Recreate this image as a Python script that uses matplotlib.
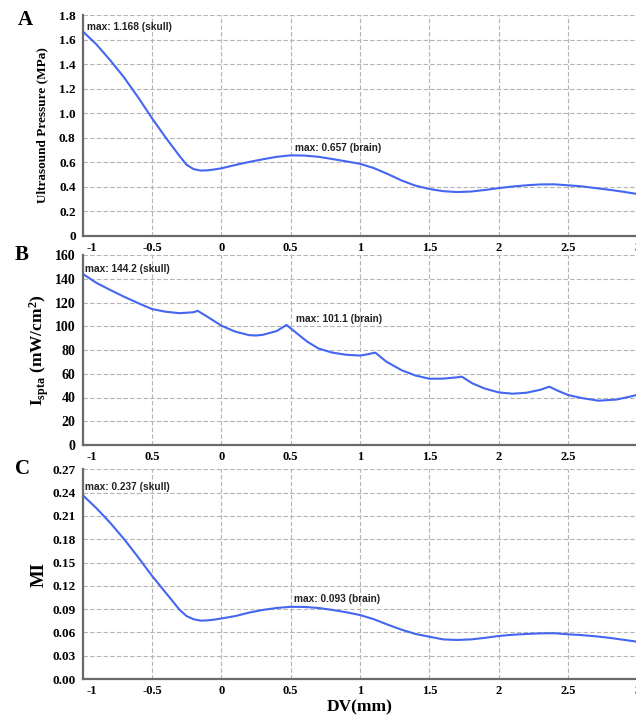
import matplotlib
matplotlib.use("Agg")
import matplotlib.pyplot as plt
import matplotlib.transforms as mtransforms

plt.rcParams['font.family'] = 'Liberation Serif'
plt.rcParams['font.weight'] = 'bold'
plt.rcParams['axes.labelweight'] = 'bold'
plt.rcParams['mathtext.fontset'] = 'custom'
plt.rcParams['mathtext.rm'] = 'Liberation Serif:bold'
plt.rcParams['mathtext.it'] = 'Liberation Serif:bold'
plt.rcParams['mathtext.default'] = 'rm'

# depth along the DV axis (mm)
dv = [-1.0, -0.9, -0.8, -0.7, -0.6, -0.5, -0.4, -0.3, -0.25, -0.2, -0.15, -0.1,
      -0.05, 0.0, 0.1, 0.2, 0.3, 0.4, 0.5, 0.6, 0.7, 0.8, 0.9, 1.0, 1.1, 1.2,
      1.3, 1.4, 1.5, 1.6, 1.7, 1.8, 1.9, 2.0, 2.1, 2.2, 2.3, 2.4, 2.5, 2.6,
      2.7, 2.8, 2.9, 3.0]

# A: peak pressure (MPa)
pressure = [1.668, 1.56, 1.43, 1.29, 1.13, 0.96, 0.80, 0.65, 0.58, 0.545, 0.533,
            0.535, 0.542, 0.551, 0.578, 0.603, 0.625, 0.645, 0.657, 0.655, 0.645,
            0.627, 0.608, 0.588, 0.553, 0.505, 0.452, 0.410, 0.383, 0.365, 0.358,
            0.362, 0.375, 0.390, 0.403, 0.413, 0.420, 0.421, 0.413, 0.404, 0.390,
            0.376, 0.360, 0.342]

# C: mechanical index
mi = [0.237, 0.220, 0.201, 0.180, 0.157, 0.133, 0.111, 0.089, 0.081, 0.077,
      0.0752, 0.0755, 0.0765, 0.078, 0.081, 0.0855, 0.089, 0.0915, 0.093, 0.0928,
      0.0915, 0.089, 0.086, 0.0824, 0.077, 0.070, 0.0635, 0.058, 0.0545, 0.051,
      0.0503, 0.051, 0.053, 0.0554, 0.057, 0.058, 0.0588, 0.059, 0.0576, 0.0565,
      0.055, 0.053, 0.0505, 0.048]

# B: spatial-peak temporal-average intensity (mW/cm2), with the layer cusps
dv_b = [-1.0, -0.9, -0.8, -0.7, -0.6, -0.5, -0.4, -0.3, -0.2, -0.17, -0.1, 0.0,
        0.1, 0.2, 0.25, 0.3, 0.4, 0.47, 0.55, 0.62, 0.7, 0.8, 0.9, 1.0, 1.05,
        1.11, 1.19, 1.3, 1.4, 1.5, 1.6, 1.7, 1.735, 1.81, 1.9, 2.0, 2.1, 2.2,
        2.3, 2.365, 2.43, 2.5, 2.6, 2.72, 2.85, 2.95, 3.0]
ispta = [144.2, 136.5, 130.5, 124.8, 119.5, 114.5, 112.2, 111.0, 111.8, 113.0,
         108.0, 100.5, 95.5, 92.5, 92.2, 92.8, 96.0, 101.1, 93.5, 87.0, 81.3,
         77.8, 76.0, 75.3, 76.3, 77.8, 70.2, 63.0, 58.5, 55.8, 55.9, 57.0, 57.5,
         51.9, 47.5, 44.3, 43.2, 44.0, 46.5, 49.1, 45.5, 42.1, 39.5, 37.3, 38.3,
         40.8, 42.3]

xticks = [-1, -0.5, 0, 0.5, 1, 1.5, 2, 2.5, 3]
xlabels = ['-1', '-0.5', '0', '0.5', '1', '1.5', '2', '2.5', '3']
xticks_b = [-1, -0.5, 0, 0.5, 1, 1.5, 2, 2.5]
xlabels_b = ['-1', '0.5', '0', '0.5', '1', '1.5', '2', '2.5']

yticks_a = [0, 0.2, 0.4, 0.6, 0.8, 1.0, 1.2, 1.4, 1.6, 1.8]
ylabels_a = ['0', '0.2', '0.4', '0.6', '0.8', '1.0', '1.2', '1.4', '1.6', '1.8']
yticks_b = [0, 20, 40, 60, 80, 100, 120, 140, 160]
yticks_c = [0, 0.03, 0.06, 0.09, 0.12, 0.15, 0.18, 0.21, 0.24, 0.27]

# (x, y, label) of the two maxima per panel
max_a = [(-1.0, 1.668, 'max: 1.168 (skull)'), (0.5, 0.657, 'max: 0.657 (brain)')]
max_b = [(-1.0, 144.2, 'max: 144.2 (skull)'), (0.47, 101.1, 'max: 101.1 (brain)')]
max_c = [(-1.0, 0.237, 'max: 0.237 (skull)'), (0.5, 0.093, 'max: 0.093 (brain)')]

LINE = '#4466f0'
W, H = 636, 717
fig = plt.figure(figsize=(W / 100, H / 100), dpi=100)


def px_axes(top, bottom):
    left = 82.6
    width = 4 * 138.7
    return [left / W, (H - bottom) / H, width / W, (bottom - top) / H]


def style(ax, ticks, labels, ylim, yt, ylab, ysize):
    ax.set_xlim(-1, 3)
    ax.set_ylim(*ylim)
    ax.set_xticks(ticks)
    ax.set_xticklabels(labels)
    ax.set_yticks(yt)
    if ylab is not None:
        ax.set_yticklabels(ylab)
    for s in ('top', 'right'):
        ax.spines[s].set_visible(False)
    for s in ('left', 'bottom'):
        ax.spines[s].set_color('#6a6a6a')
        ax.spines[s].set_linewidth(1.6)
    ax.grid(True, color='#b4b4b4', linestyle=(0, (4, 2)), linewidth=0.8)
    ax.set_axisbelow(True)
    ax.tick_params(axis='x', length=0, pad=4, labelsize=9)
    ax.tick_params(axis='y', length=0, pad=5, labelsize=ysize)
    # first x label sits just right of the spine
    first = ax.get_xticklabels()[0]
    first.set_ha('left')
    first.set_transform(first.get_transform() +
                        mtransforms.ScaledTranslation(3 / 72, 0, fig.dpi_scale_trans))


def mark_max(ax, items, offs):
    for (x, y, txt), (dx, dy) in zip(items, offs):
        ax.annotate(txt, xy=(x, y), xytext=(dx, dy), textcoords='offset points',
                    ha='left', va='center', fontsize=7.3, fontweight='bold',
                    family='Liberation Sans', color='#222222')


# A
ax_a = fig.add_axes(px_axes(15, 236))
ax_a.plot(dv, pressure, color=LINE, lw=1.5)
style(ax_a, xticks, xlabels, (0, 1.8), yticks_a, ylabels_a, 9.5)
ax_a.set_ylabel('Ultrasound Pressure (MPa)', fontsize=9.5, labelpad=8)
mark_max(ax_a, max_a, [(3, 3), (3, 5)])

# B
ax_b = fig.add_axes(px_axes(255, 445))
ax_b.plot(dv_b, ispta, color=LINE, lw=1.5)
style(ax_b, xticks_b, xlabels_b, (0, 160), yticks_b, None, 10)
ax_b.set_ylabel(r'I$_{spta}$ (mW/cm$^{2}$)', fontsize=12.5, labelpad=3)
mark_max(ax_b, max_b, [(2, 3.5), (7, 4.5)])

# C
ax_c = fig.add_axes(px_axes(469.4, 679))
ax_c.plot(dv, mi, color=LINE, lw=1.5)
style(ax_c, xticks, xlabels, (0, 0.27), yticks_c,
      ['%.2f' % v for v in yticks_c], 9.5)
ax_c.set_ylabel('MI', fontsize=13.5, labelpad=3)
ax_c.set_xlabel('DV(mm)', fontsize=12.5, labelpad=2)
mark_max(ax_c, max_c, [(2, 5.5), (2.5, 5.5)])

for letter, x, y in (('A', 25, 20), ('B', 22, 255), ('C', 22, 469)):
    fig.text(x / W, 1 - y / H, letter, fontsize=15, fontweight='bold',
             ha='center', va='center')

fig.savefig('out.png', dpi=100)
